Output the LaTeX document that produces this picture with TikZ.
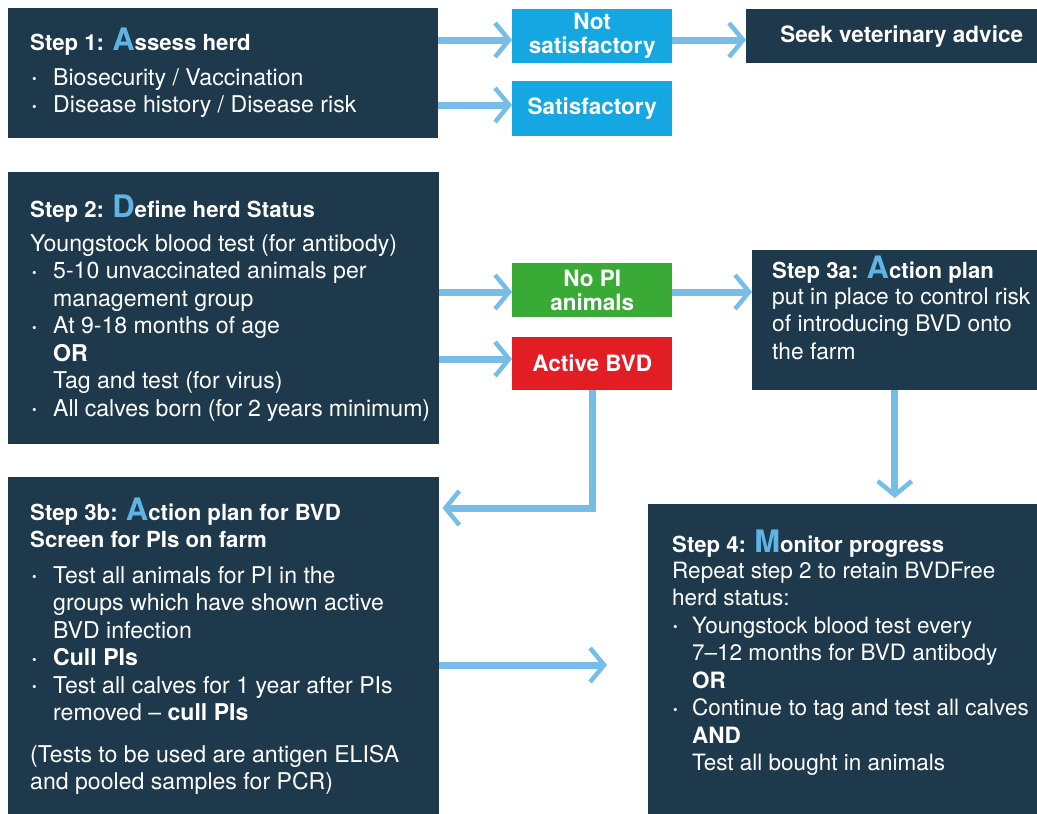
\documentclass[tikz,border=0pt]{standalone}
\usepackage{fontspec}
\setmainfont{TeX Gyre Heros}
\usetikzlibrary{arrows.meta}
\definecolor{navy}{RGB}{30,57,76}
\definecolor{cyanbox}{RGB}{20,167,225}
\definecolor{greenbox}{RGB}{57,170,53}
\definecolor{redbox}{RGB}{226,30,36}
\definecolor{arrblue}{RGB}{118,189,232}
\definecolor{letblue}{RGB}{95,180,230}
\newcommand{\BigL}[1]{{\fontsize{31}{31}\selectfont\color{letblue}#1}}
\newcommand{\bul}{\makebox[23pt][l]{\hspace{2pt}\raisebox{1.5pt}{\fontsize{13}{13}\selectfont •}}}
\newcommand{\ind}{\hspace*{23pt}}
\newcommand{\bulb}{\makebox[20pt][l]{\hspace{1pt}\raisebox{1.5pt}{\fontsize{13}{13}\selectfont •}}}
\newcommand{\indb}{\hspace*{20pt}}
\tikzset{
  darkbox/.style={fill=navy, draw=none, inner sep=0, anchor=north west},
  colbox/.style={fill=#1, draw=none, inner sep=0, anchor=north west, text=white,
    align=center, font=\fontsize{22.5}{24}\selectfont\bfseries},
  ttl/.style={anchor=base west, inner sep=0, text=white, font=\fontsize{22.2}{27}\selectfont\bfseries},
  body/.style={anchor=base west, inner sep=0, text=white, font=\fontsize{23.1}{27.5}\selectfont},
  bodyb/.style={body, font=\fontsize{22.5}{27.5}\selectfont},
  arr/.style={draw=arrblue, line width=7pt,
    -{Straight Barb[length=14pt,width=34pt,line width=4.5pt]}}
}
\begin{document}
\begin{tikzpicture}[x=1pt,y=-1pt]
\useasboundingbox (0,0) rectangle (1037,814);
% boxes
\node[darkbox, minimum width=430pt, minimum height=130pt] (b1) at (8,8) {};
\node[colbox=cyanbox, minimum width=160pt, minimum height=54pt] (ns) at (512,9) {Not\\satisfactory};
\node[colbox=cyanbox, minimum width=160pt, minimum height=55pt] (sat) at (512,81) {Satisfactory};
\node[darkbox, minimum width=291pt, minimum height=54pt] (vet) at (746,9) {};
\node[colbox=navy, fill=none, anchor=center] (vett) at ([xshift=10pt]vet.center) {Seek veterinary advice};
\node[darkbox, minimum width=431pt, minimum height=272pt] (b2) at (8,172) {};
\node[colbox=greenbox, minimum width=160pt, minimum height=54pt] (nopi) at (512,263) {No PI\\animals};
\node[colbox=redbox, minimum width=160pt, minimum height=53pt] (bvd) at (512,337) {Active BVD};
\node[darkbox, minimum width=285pt, minimum height=140pt] (b3a) at (752,250) {};
\node[darkbox, minimum width=431pt, minimum height=337pt] (b3b) at (8,477) {};
\node[darkbox, minimum width=389pt, minimum height=310pt] (b4) at (648,504) {};
% texts
\node[ttl] (t1) at (30,50) {Step 1: \BigL{A}ssess herd};
\node[body] (x1) at (30,85) {\parbox[t]{400pt}{\raggedright
\bul Biosecurity / Vaccination\\
\bul Disease history / Disease risk}};
\node[ttl] (t2) at (30,217) {Step 2: \BigL{D}efine herd Status};
\node[body] (x2) at (30,251) {\parbox[t]{400pt}{\raggedright
Youngstock blood test (for antibody)\\
\bul 5-10 unvaccinated animals per\\
\ind management group\\
\bul At 9-18 months of age\\
\ind\textbf{OR}\\
\ind Tag and test (for virus)\\
\bul All calves born (for 2 years minimum)}};
\node[ttl] (t3a) at (772,278) {Step 3a: \BigL{A}ction plan};
\node[body, font=\fontsize{22.8}{27.5}\selectfont] (x3a) at (772,304) {\parbox[t]{270pt}{\raggedright
put in place to control risk\\
of introducing BVD onto\\
the farm}};
\node[ttl] (t3b) at (30,520) {\parbox[t]{400pt}{\raggedright
Step 3b: \BigL{A}ction plan for BVD\\
Screen for PIs on farm}};
\node[body] (x3b) at (30,583) {\parbox[t]{400pt}{\raggedright
\bul Test all animals for PI in the\\
\ind groups which have shown active\\
\ind BVD infection\\
\bul\textbf{Cull PIs}\\
\bul Test all calves for 1 year after PIs\\
\ind removed -- \textbf{cull PIs}}};
\node[body] (x3c) at (30,762) {\parbox[t]{400pt}{\raggedright
(Tests to be used are antigen ELISA\\
and pooled samples for PCR)}};
\node[ttl] (t4) at (672,552) {Step 4: \BigL{M}onitor progress};
\node[bodyb] (x4) at (672,578) {\parbox[t]{362pt}{\raggedright
Repeat step 2 to retain BVDFree\\
herd status:\\
\bulb Youngstock blood test every\\
\indb 7--12 months for BVD antibody\\
\indb\textbf{OR}\\
\bulb Continue to tag and test all calves\\
\indb\textbf{AND}\\
\indb Test all bought in animals}};
% helper coordinates
\coordinate (y40) at (0,40);
\coordinate (y105) at (0,105);
\coordinate (y292) at (0,292);
\coordinate (y359) at (0,359);
\coordinate (y508) at (0,508);
\coordinate (y665) at (0,665);
% connectors
\draw[arr] (b1.east |- y40) -- (ns.west |- y40);
\draw[arr] (b1.east |- y105) -- (sat.west |- y105);
\draw[arr] (ns.east |- y40) -- (vet.west |- y40);
\draw[arr] (b2.east |- y292) -- (nopi.west |- y292);
\draw[arr] (b2.east |- y359) -- (bvd.west |- y359);
\draw[arr] (nopi.east |- y292) -- (b3a.west |- y292);
\draw[arr, shorten >=3pt] (bvd.south) |- (b3b.east |- y508);
\draw[arr, shorten >=6pt] (b3a.south) -- (b4.north -| b3a.south);
\draw[arr, shorten >=41pt] (b3b.east |- y665) -- (b4.west |- y665);
\end{tikzpicture}
\end{document}
